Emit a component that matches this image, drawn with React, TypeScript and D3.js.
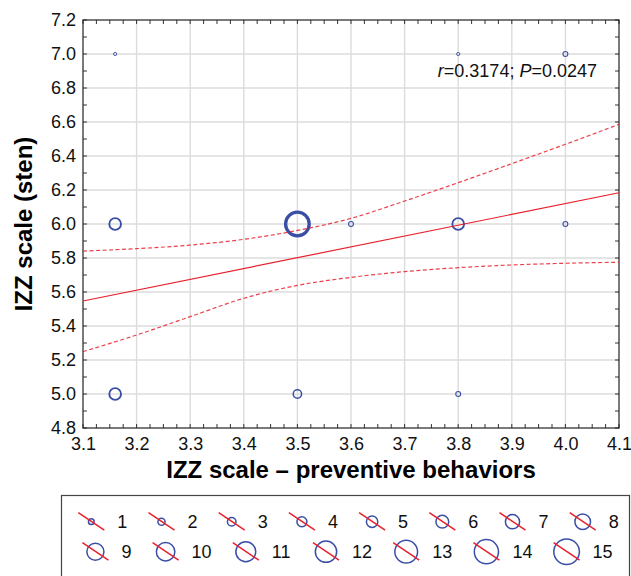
import React, { useEffect, useRef } from 'react';
import * as d3 from 'd3';

// observations (bubble size = number of cases)
const pointX = [3.16, 3.16, 3.16, 3.5, 3.5, 3.6, 3.8, 3.8, 3.8, 4.0, 4.0];
const pointY = [7.0, 6.0, 5.0, 6.0, 5.0, 6.0, 7.0, 6.0, 5.0, 7.0, 6.0];
const pointCount = [1, 6, 6, 13, 4, 2, 1, 6, 2, 2, 2];

// regression line and 95% confidence band
const fitX = [3.1, 4.1];
const fitY = [5.547, 6.184];
const bandX = [3.1, 3.2, 3.3, 3.4, 3.5, 3.6, 3.7, 3.8, 3.9, 4.0, 4.1];
const bandUpper = [5.841, 5.855, 5.876, 5.91, 5.962, 6.033, 6.135, 6.243, 6.355, 6.469, 6.586];
const bandLower = [5.249, 5.347, 5.455, 5.563, 5.639, 5.686, 5.72, 5.743, 5.759, 5.769, 5.775];

const xTicks = [3.1, 3.2, 3.3, 3.4, 3.5, 3.6, 3.7, 3.8, 3.9, 4.0, 4.1];
const yTicks = [4.8, 5.0, 5.2, 5.4, 5.6, 5.8, 6.0, 6.2, 6.4, 6.6, 6.8, 7.0, 7.2];
const legendRow1 = [1, 2, 3, 4, 5, 6, 7, 8];
const legendRow2 = [9, 10, 11, 12, 13, 14, 15];

const xTitle = 'IZZ scale – preventive behaviors';
const yTitle = 'IZZ scale (sten)';

const FONT = '"Liberation Sans", Arial, sans-serif';
const BLUE = '#3a4ea6';
const RED = '#e8202c';

const App = () => {
  const svgRef = useRef(null);

  useEffect(() => {
    const svg = d3.select(svgRef.current);
    svg.selectAll('*').remove();

    const left = 83, right = 619, top = 20, bottom = 428;

    const x = d3.scaleLinear().domain([3.1, 4.1]).range([left, right]);
    const y = d3.scaleLinear().domain([4.8, 7.2]).range([bottom, top]);

    // grid
    const grid = svg.append('g').attr('stroke', '#dcdcdc').attr('stroke-width', 1.4);
    grid.selectAll('.gx')
      .data(xTicks.slice(1, -1))
      .enter().append('line')
      .attr('x1', d => x(d)).attr('x2', d => x(d))
      .attr('y1', top).attr('y2', bottom);
    grid.selectAll('.gy')
      .data(yTicks.slice(1, -1))
      .enter().append('line')
      .attr('x1', left).attr('x2', right)
      .attr('y1', d => y(d)).attr('y2', d => y(d));

    // inward ticks on all four sides
    const minorX = d3.range(0, 41).map(i => 3.1 + i * 0.025);
    const minorY = d3.range(0, 25).map(i => 4.8 + i * 0.1);
    const tickLen = 4;
    const tickG = svg.append('g').attr('stroke', '#333').attr('stroke-width', 1);
    minorX.forEach(v => {
      tickG.append('line').attr('x1', x(v)).attr('x2', x(v)).attr('y1', bottom).attr('y2', bottom - tickLen);
      tickG.append('line').attr('x1', x(v)).attr('x2', x(v)).attr('y1', top).attr('y2', top + tickLen);
    });
    minorY.forEach(v => {
      tickG.append('line').attr('x1', left).attr('x2', left + tickLen).attr('y1', y(v)).attr('y2', y(v));
      tickG.append('line').attr('x1', right).attr('x2', right - tickLen).attr('y1', y(v)).attr('y2', y(v));
    });

    // tick labels
    const xAxis = svg.append('g')
      .attr('transform', `translate(0,${bottom})`)
      .call(d3.axisBottom(x).tickValues(xTicks).tickSize(0).tickPadding(9).tickFormat(d3.format('.1f')));
    const yAxis = svg.append('g')
      .attr('transform', `translate(${left},0)`)
      .call(d3.axisLeft(y).tickValues(yTicks).tickSize(0).tickPadding(7).tickFormat(d3.format('.1f')));
    [xAxis, yAxis].forEach(a => {
      a.select('.domain').remove();
      a.selectAll('text')
        .attr('font-family', FONT)
        .attr('font-size', 18)
        .attr('fill', '#111');
    });

    // frame
    svg.append('rect')
      .attr('x', left).attr('y', top)
      .attr('width', right - left).attr('height', bottom - top)
      .attr('fill', 'none').attr('stroke', '#222').attr('stroke-width', 1.2);

    // bubbles
    const rScale = (n: number) => 1.6 + (n - 1) * 0.85;
    const wScale = (n: number) => 0.9 + (n - 1) * 0.2;
    svg.append('g').selectAll('circle')
      .data(pointX.map((px, i) => ({ px, py: pointY[i], n: pointCount[i] })))
      .enter().append('circle')
      .attr('cx', d => x(d.px))
      .attr('cy', d => y(d.py))
      .attr('r', d => rScale(d.n))
      .attr('fill', 'none')
      .attr('stroke', BLUE)
      .attr('stroke-width', d => wScale(d.n));

    // fit + confidence band
    const line = d3.line<[number, number]>().x(d => x(d[0])).y(d => y(d[1]));
    const curve = d3.line<[number, number]>().x(d => x(d[0])).y(d => y(d[1])).curve(d3.curveMonotoneX);
    svg.append('path')
      .attr('d', line(fitX.map((v, i) => [v, fitY[i]])))
      .attr('fill', 'none').attr('stroke', RED).attr('stroke-width', 1.2);
    [bandUpper, bandLower].forEach(band => {
      svg.append('path')
        .attr('d', curve(bandX.map((v, i) => [v, band[i]])))
        .attr('fill', 'none').attr('stroke', RED).attr('stroke-width', 1.2)
        .attr('stroke-dasharray', '4,2.5').attr('opacity', 0.85);
    });

    // annotation
    const note = svg.append('text')
      .attr('x', 597).attr('y', 77)
      .attr('text-anchor', 'end')
      .attr('font-family', FONT).attr('font-size', 18).attr('fill', '#111');
    note.append('tspan').attr('font-style', 'italic').text('r');
    note.append('tspan').text('=0.3174; ');
    note.append('tspan').attr('font-style', 'italic').text('P');
    note.append('tspan').text('=0.0247');

    // axis titles
    svg.append('text')
      .attr('x', (left + right) / 2).attr('y', 478)
      .attr('text-anchor', 'middle')
      .attr('font-family', FONT).attr('font-size', 24).attr('font-weight', 'bold')
      .text(xTitle);
    svg.append('text')
      .attr('transform', `translate(32,${(top + bottom) / 2}) rotate(-90)`)
      .attr('text-anchor', 'middle')
      .attr('font-family', FONT).attr('font-size', 24).attr('font-weight', 'bold')
      .text(yTitle);

    // legend
    svg.append('rect')
      .attr('x', 61.5).attr('y', 495.5)
      .attr('width', 568).attr('height', 100)
      .attr('fill', 'white').attr('stroke', '#444').attr('stroke-width', 1.2);

    const legR = (n: number) => 2.85 + (n - 1) * 0.71;
    const drawRow = (items: number[], startX: number, cy: number) => {
      let cx = startX;
      items.forEach(n => {
        const g = svg.append('g');
        g.append('circle')
          .attr('cx', cx).attr('cy', cy).attr('r', legR(n))
          .attr('fill', 'none').attr('stroke', BLUE).attr('stroke-width', 1.5);
        g.append('line')
          .attr('x1', cx - 13).attr('y1', cy - 9)
          .attr('x2', cx + 13).attr('y2', cy + 8.5)
          .attr('stroke', RED).attr('stroke-width', 1.5);
        g.append('text')
          .attr('x', cx + 26).attr('y', cy + 6.5)
          .attr('font-family', FONT).attr('font-size', 18).attr('fill', '#111')
          .text(String(n));
        cx += 60.2 + 10 * String(n).length;
      });
    };
    drawRow(legendRow1, 91.3, 521.7);
    drawRow(legendRow2, 95.4, 551.7);
  }, []);

  return (
    <svg
      ref={svgRef}
      width={631}
      height={576}
      style={{ position: 'absolute', left: 0, top: 0, background: 'white' }}
    ></svg>
  );
};

export default App;
